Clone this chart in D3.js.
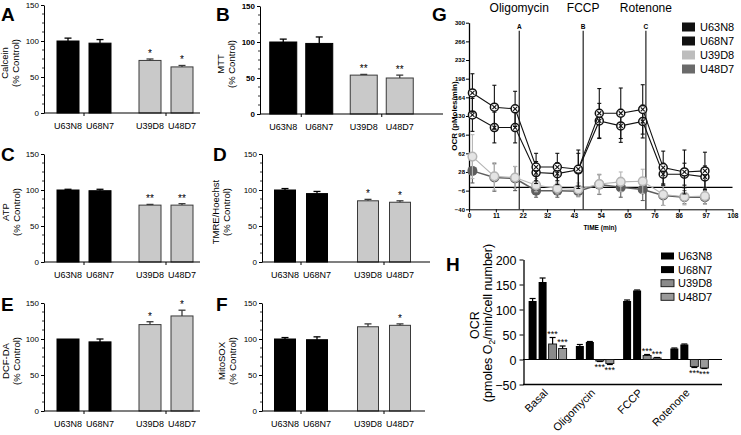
<!DOCTYPE html>
<html><head><meta charset="utf-8">
<script src="https://cdn.jsdelivr.net/npm/d3@7"></script>
<style>
body{margin:0;background:#fff;}
text{font-family:"Liberation Sans",Arial,sans-serif;fill:#000;}
</style></head>
<body>
<script>
// ---------- DATA ----------
const cats = ["U63N8","U68N7","U39D8","U48D7"];
const catGroup = ["ctrl","ctrl","dis","dis"];

const calcein = [100, 97, 73, 64];   const calceinErr = [4, 5, 2, 2];   const calceinSig = ["", "", "*", "*"];
const mtt = [100, 98, 54, 50];       const mttErr = [4, 9, 1, 4];       const mttSig = ["", "", "**", "**"];
const atp = [100, 99, 79, 79];       const atpErr = [1, 2, 1, 2];       const atpSig = ["", "", "**", "**"];
const tmre = [100, 95, 85, 83];      const tmreErr = [2, 3, 2, 2];      const tmreSig = ["", "", "*", "*"];
const dcf = [100, 96, 120, 132];     const dcfErr = [0, 4, 4, 8];       const dcfSig = ["", "", "*", "*"];
const mitosox = [100, 99, 117, 119]; const mitosoxErr = [2, 4, 4, 2];   const mitosoxSig = ["", "", "", "*"];
const barTicks = [0, 50, 100, 150];

// Panel G: OCR time course
const timeMin = [1.4, 10.4, 18.9, 27.5, 36.2, 44.8, 53.4, 62.2, 71.2, 79.6, 88.3, 96.7];
const ocrU63N8 = [132, 109, 109, 27, 25, 32, 121, 112, 120, 24, 24, 19];
const ocrU63N8Err = [30, 28, 28, 20, 20, 30, 32, 30, 30, 20, 20, 20];
const ocrU68N7 = [172, 146, 143, 37, 37, 33, 135, 135, 142, 36, 28, 30];
const ocrU68N7Err = [35, 40, 32, 25, 25, 35, 45, 46, 45, 30, 40, 34];
const ocrU39D8 = [56, 20, 18, 4, -2, -4, 6, 10, 11, -13, -17, -16];
const ocrU39D8Err = [40, 25, 20, 12, 10, 12, 18, 18, 22, 20, 15, 15];
const ocrU48D7 = [30, 18, 16, -6, -6, -7, 5, 0, -4, -15, -18, -18];
const ocrU48D7Err = [22, 25, 22, 12, 12, 10, 18, 18, 20, 18, 12, 12];
const gXTicks = [0, 11, 22, 32, 43, 54, 65, 76, 86, 97, 108];
const gYTicks = [-40, -6, 28, 62, 96, 130, 164, 198, 232, 266, 300];
const injTimes = [20.6, 46.8, 72.5];
const injLetters = ["A", "B", "C"];
const injNames = ["Oligomycin", "FCCP", "Rotenone"];

// Panel H: OCR summary
const hGroups = ["Basal", "Oligomycin", "FCCP", "Rotenone"];
const hU63N8 = [117, 27, 117, 22];  const hU63N8Err = [5, 3, 2, 1];
const hU68N7 = [155, 35, 138, 30];  const hU68N7Err = [8, 1, 1, 1];
const hU39D8 = [31, -3, 8, -14];    const hU39D8Err = [13, 1, 2, 2];
const hU48D7 = [22, -8, 3, -17];    const hU48D7Err = [5, 2, 1, 1];
const hSig = ["***", "***", "***", "***"];
const hTicks = [-50, 0, 50, 100, 150, 200];

// ---------- DRAW ----------
const svg = d3.select("body").append("svg").attr("width", 741).attr("height", 435);
const FONT = '"Liberation Sans",Arial,sans-serif';

function styleAxis(sel, size, weight){
  sel.attr("font-family", FONT);
  sel.selectAll("text").attr("font-size", size).attr("font-weight", weight || "normal").attr("fill","#000");
  sel.selectAll("line,path").attr("stroke", "#000");
}

function panelLetter(t, x, y){
  svg.append("text").attr("x", x).attr("y", y).text(t).attr("fill", "#000")
    .attr("font-size", 19).attr("font-weight", "bold").attr("font-family", FONT);
}

function barPanel(p){
  const g = svg.append("g");
  const y = d3.scaleLinear().domain([0, 150]).range([p.y0, p.y150]);
  const x0 = d3.scaleBand().domain(["ctrl", "dis"]).range(p.xr);
  const pi = 1 - p.bw / p.step;
  const x1 = d3.scaleBand().domain([0, 1]).range([-p.step, p.step]).paddingInner(pi).paddingOuter(pi / 2);
  const left = i => x0(catGroup[i]) + x0.bandwidth() / 2 + x1(i % 2);
  const bw = x1.bandwidth();
  const vals = p.vals, errs = p.errs;

  g.selectAll("rect.bar").data(vals).join("rect")
    .attr("x", (d, i) => left(i)).attr("width", bw)
    .attr("y", d => y(d)).attr("height", d => y(0) - y(d))
    .attr("fill", (d, i) => catGroup[i] === "ctrl" ? "#000" : "#c9c9c9")
    .attr("stroke", (d, i) => catGroup[i] === "ctrl" ? "#000" : "#3a3a3a")
    .attr("stroke-width", 1);
  vals.forEach((v, i) => {
    const cx = left(i) + bw / 2;
    const col = catGroup[i] === "ctrl" ? "#000" : "#3a3a3a";
    if (errs[i] > 0) {
      g.append("line").attr("x1", cx).attr("x2", cx).attr("y1", y(v)).attr("y2", y(v + errs[i])).attr("stroke", col).attr("stroke-width", 1.3);
      g.append("line").attr("x1", cx - 3.5).attr("x2", cx + 3.5).attr("y1", y(v + errs[i])).attr("y2", y(v + errs[i])).attr("stroke", col).attr("stroke-width", 1.3);
    }
    if (p.sig[i]) {
      g.append("text").attr("x", cx).attr("y", y(v + errs[i]) - 2).attr("text-anchor", "middle")
        .attr("font-size", 10).attr("fill", "#000").attr("font-family", FONT).text(p.sig[i]);
    }
  });
  const ya = g.append("g").attr("transform", `translate(${p.ax},0)`)
    .call(d3.axisLeft(y).tickValues(barTicks).tickSize(3).tickSizeOuter(0).tickPadding(2));
  styleAxis(ya, 8, p.boldTicks ? "bold" : "normal");
  ya.selectAll("text").attr("dy", "0.35em");
  g.selectAll("line.minor").data(d3.range(0, 150.1, 12.5).filter(v => v % 50 !== 0)).join("line")
    .attr("x1", p.ax - 2).attr("x2", p.ax).attr("y1", d => y(d)).attr("y2", d => y(d))
    .attr("stroke", "#000").attr("stroke-width", 0.8);
  g.append("line").attr("x1", p.ax).attr("x2", p.xEnd).attr("y1", y(0)).attr("y2", y(0)).attr("stroke", "#000").attr("stroke-width", 1.2);
  ["ctrl", "dis"].forEach(k => {
    const cx = x0(k) + x0.bandwidth() / 2;
    g.append("line").attr("x1", cx).attr("x2", cx).attr("y1", y(0)).attr("y2", y(0) + 3).attr("stroke", "#000");
  });
  cats.forEach((c, i) => {
    g.append("text").attr("x", left(i) + bw / 2).attr("y", y(0) + 16).attr("text-anchor", "middle")
      .attr("font-size", 9).attr("font-family", FONT).text(c);
  });
  const cy = (p.y0 + p.y150) / 2 + 4;
  [p.title, "(% Control)"].forEach((t, k) => {
    g.append("text").attr("transform", `translate(${p.tx + k * 11},${cy}) rotate(-90)`)
      .attr("text-anchor", "middle").attr("font-size", 9.5).attr("font-family", FONT).text(t);
  });
  panelLetter(p.letter, p.lx, p.ly);
}

const L1 = {xr: [43, 207], step: 32, bw: 22, ax: 44, xEnd: 200};
const L2 = {xr: [259.5, 425.5], step: 32, bw: 21, ax: 262, xEnd: 430};
barPanel({...L1, y0: 113, y150: 5, vals: calcein, errs: calceinErr, sig: calceinSig, title: "Calcein", tx: 8, letter: "A", lx: 1, ly: 21});
barPanel({xr: [261, 422], step: 36, bw: 27, ax: 260, xEnd: 443, y0: 114, y150: 6, vals: mtt, errs: mttErr, sig: mttSig, title: "MTT", tx: 224, letter: "B", lx: 216, ly: 21, boldTicks: true});
barPanel({...L1, y0: 262, y150: 154, vals: atp, errs: atpErr, sig: atpSig, title: "ATP", tx: 9, letter: "C", lx: 1, ly: 161});
barPanel({...L2, y0: 262, y150: 154, vals: tmre, errs: tmreErr, sig: tmreSig, title: "TMRE/Hoechst", tx: 219, letter: "D", lx: 213, ly: 161});
barPanel({...L1, y0: 411, y150: 303, vals: dcf, errs: dcfErr, sig: dcfSig, title: "DCF-DA", tx: 9, letter: "E", lx: 1, ly: 311});
barPanel({...L2, xEnd: 425, y0: 411, y150: 303, vals: mitosox, errs: mitosoxErr, sig: mitosoxSig, title: "MitoSOX", tx: 225, letter: "F", lx: 216, ly: 311});

// ---------- Panel G ----------
(function(){
  const g = svg.append("g");
  const x = d3.scaleLinear().domain([0, 108]).range([469, 732.5]);
  const y = d3.scaleLinear().domain([-40, 300]).range([209.3, 22.7]);
  const xa = g.append("g").attr("transform", `translate(0,${y(-40)})`)
    .call(d3.axisBottom(x).tickValues(gXTicks).tickSize(3).tickSizeOuter(0).tickPadding(1));
  styleAxis(xa, 6.5, "bold");
  const ya = g.append("g").attr("transform", `translate(${x(0)},0)`)
    .call(d3.axisLeft(y).tickValues(gYTicks).tickSize(3).tickSizeOuter(0).tickPadding(1));
  styleAxis(ya, 6, "bold");
  ya.selectAll("path").attr("stroke-width", 1.3);
  g.append("line").attr("x1", x(0)).attr("x2", x(108)).attr("y1", y(0)).attr("y2", y(0)).attr("stroke", "#000").attr("stroke-width", 1.2);
  injTimes.forEach((t, i) => {
    g.append("line").attr("x1", x(t)).attr("x2", x(t)).attr("y1", y(300) + 8).attr("y2", y(-40)).attr("stroke", "#222").attr("stroke-width", 1.2);
    g.append("text").attr("x", x(t)).attr("y", y(300) + 6).attr("text-anchor", "middle").attr("font-size", 6.5).attr("font-weight", "bold").text(injLetters[i]);
    g.append("text").attr("x", x(t)).attr("y", 12).attr("text-anchor", "middle").attr("font-size", 12).text(injNames[i]);
  });
  g.append("text").attr("x", 600).attr("y", 230).attr("text-anchor", "middle").attr("font-size", 6.5).attr("font-weight", "bold").text("TIME (min)");
  g.append("text").attr("transform", `translate(457,116) rotate(-90)`).attr("text-anchor", "middle").attr("font-size", 8).attr("font-weight", "bold").text("OCR (pMoles/min)");

  const series = [
    {name: "U48D7", v: ocrU48D7, e: ocrU48D7Err, col: "#5e5e5e", type: "fill"},
    {name: "U39D8", v: ocrU39D8, e: ocrU39D8Err, col: "#b5b5b5", type: "ring"},
    {name: "U63N8", v: ocrU63N8, e: ocrU63N8Err, col: "#111", type: "cross"},
    {name: "U68N7", v: ocrU68N7, e: ocrU68N7Err, col: "#111", type: "cross"}
  ];
  const line = d3.line().x((d, i) => x(timeMin[i])).y(d => y(d));
  series.forEach(s => {
    const sg = g.append("g");
    s.v.forEach((v, i) => {
      const cx = x(timeMin[i]);
      sg.append("line").attr("x1", cx).attr("x2", cx).attr("y1", y(v - s.e[i])).attr("y2", y(v + s.e[i])).attr("stroke", s.col).attr("stroke-width", 1.1);
      [v - s.e[i], v + s.e[i]].forEach(w => sg.append("line").attr("x1", cx - 2).attr("x2", cx + 2).attr("y1", y(w)).attr("y2", y(w)).attr("stroke", s.col).attr("stroke-width", 1.1));
    });
    sg.append("path").datum(s.v).attr("d", line).attr("fill", "none").attr("stroke", s.col).attr("stroke-width", s.type === "fill" ? 1.5 : 1.1);
    s.v.forEach((v, i) => {
      const cx = x(timeMin[i]), cy = y(v);
      if (s.type === "fill") {
        sg.append("circle").attr("cx", cx).attr("cy", cy).attr("r", 5).attr("fill", s.col);
      } else if (s.type === "ring") {
        sg.append("circle").attr("cx", cx).attr("cy", cy).attr("r", 4.3).attr("fill", "#e4e4e4").attr("stroke", s.col).attr("stroke-width", 1.5);
      } else {
        sg.append("circle").attr("cx", cx).attr("cy", cy).attr("r", 4).attr("fill", "#fff").attr("stroke", s.col).attr("stroke-width", 1.5);
        sg.append("path").attr("d", `M${cx-2},${cy-2}L${cx+2},${cy+2}M${cx+2},${cy-2}L${cx-2},${cy+2}`).attr("stroke", s.col).attr("stroke-width", 1.1);
      }
    });
  });
  const legCols = {U63N8: "#111", U68N7: "#111", U39D8: "#bdbdbd", U48D7: "#6a6a6a"};
  cats.forEach((c, i) => {
    const ly = 27 + i * 14;
    g.append("rect").attr("x", 682).attr("y", ly - 4.5).attr("width", 13).attr("height", 9).attr("fill", legCols[c]);
    g.append("text").attr("x", 700).attr("y", ly + 4).attr("font-size", 11).text(c);
  });
  panelLetter("G", 432, 21);
})();

// ---------- Panel H ----------
(function(){
  const g = svg.append("g");
  const y = d3.scaleLinear().domain([-50, 200]).range([384.5, 259.5]);
  const x0 = d3.scaleBand().domain(hGroups).range([524, 713]);
  const x1 = d3.scaleBand().domain(cats).range([4.6, 42.6]).paddingInner(0.2);
  const vals = [hU63N8, hU68N7, hU39D8, hU48D7];
  const errs = [hU63N8Err, hU68N7Err, hU39D8Err, hU48D7Err];
  const fills = ["#000", "#000", "#8a8a8a", "#9a9a9a"];
  g.append("line").attr("x1", 523).attr("x2", 722).attr("y1", y(0)).attr("y2", y(0)).attr("stroke", "#000").attr("stroke-width", 1.2);
  g.append("line").attr("x1", 523).attr("x2", 722).attr("y1", y(-50)).attr("y2", y(-50)).attr("stroke", "#000").attr("stroke-width", 1.3);
  const ya = g.append("g").attr("transform", `translate(523.5,0)`)
    .call(d3.axisLeft(y).tickValues(hTicks).tickSize(4).tickSizeOuter(0).tickPadding(3));
  styleAxis(ya, 12.5, "normal");
  ya.selectAll("path").attr("stroke-width", 1.3);
  ya.selectAll("text").attr("dy", "0.36em");
  cats.forEach((c, si) => {
    hGroups.forEach((gname, gi) => {
      const v = vals[si][gi], e = errs[si][gi];
      const bx = x0(gname) + x1(c), bw = x1.bandwidth(), cx = bx + bw / 2;
      g.append("rect").attr("x", bx).attr("width", bw)
        .attr("y", Math.min(y(v), y(0))).attr("height", Math.abs(y(v) - y(0)))
        .attr("fill", fills[si]).attr("stroke", "#111").attr("stroke-width", si < 2 ? 0 : 0.9);
      const ye = v >= 0 ? y(v + e) : y(v - e);
      g.append("line").attr("x1", cx).attr("x2", cx).attr("y1", y(v)).attr("y2", ye).attr("stroke", "#000").attr("stroke-width", 1.2);
      g.append("line").attr("x1", cx - 3).attr("x2", cx + 3).attr("y1", ye).attr("y2", ye).attr("stroke", "#000").attr("stroke-width", 1.2);
      if (si >= 2) {
        g.append("text").attr("x", cx).attr("y", v >= 0 ? ye - 1 : ye + 8).attr("text-anchor", "middle")
          .attr("font-size", 9).attr("fill", "#000").text(hSig[gi]);
      }
    });
  });
  hGroups.forEach(gname => {
    const cx = x0(gname) + x0.bandwidth() / 2;
    g.append("text").attr("transform", `translate(${cx + 1},${y(-50) + 9}) rotate(-45)`)
      .attr("text-anchor", "end").attr("font-size", 11).text(gname);
  });
  g.append("text").attr("transform", `translate(479,325) rotate(-90)`).attr("text-anchor", "middle").attr("font-size", 12.5).text("OCR");
  const t2 = g.append("text").attr("transform", `translate(492,323) rotate(-90)`).attr("text-anchor", "middle").attr("font-size", 12.5);
  t2.append("tspan").text("(pmoles O");
  t2.append("tspan").attr("font-size", 8.5).attr("dy", 3).text("2");
  t2.append("tspan").attr("dy", -3).text("/min/cell number)");
  cats.forEach((c, i) => {
    const ly = 256 + i * 13.6;
    g.append("rect").attr("x", 661).attr("y", ly - 3.5).attr("width", 13).attr("height", 7)
      .attr("fill", fills[i]).attr("stroke", "#111").attr("stroke-width", i < 2 ? 0 : 0.9);
    g.append("text").attr("x", 678).attr("y", ly + 4).attr("font-size", 11).text(c);
  });
  panelLetter("H", 446, 271);
})();
</script>
</body></html>
